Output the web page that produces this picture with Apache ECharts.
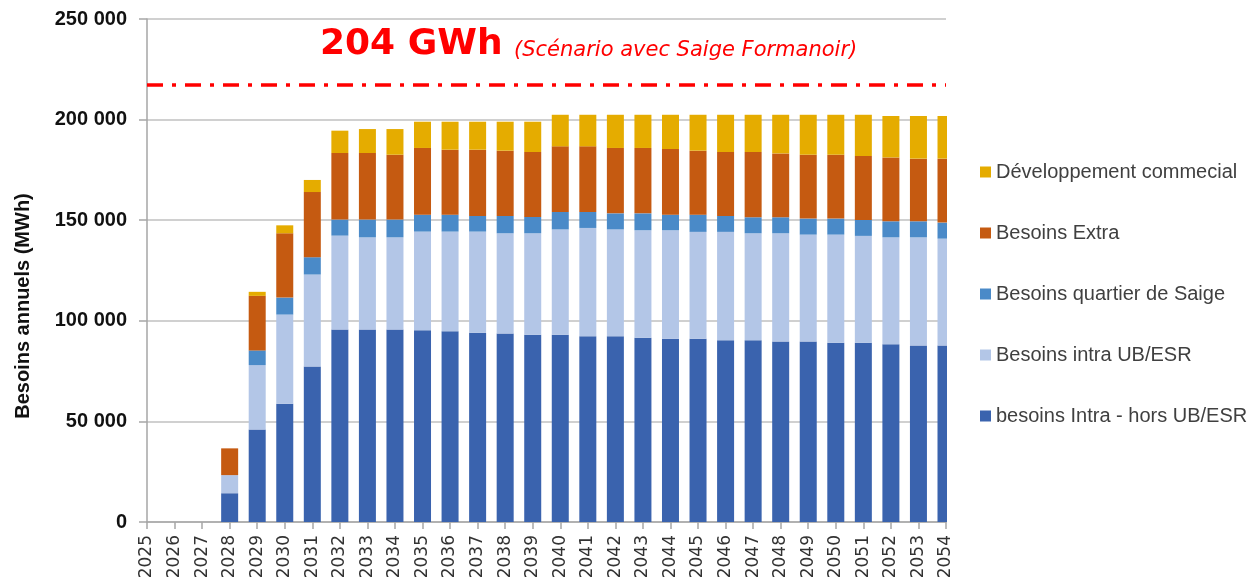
<!DOCTYPE html>
<html>
<head>
<meta charset="utf-8">
<script src="https://cdn.jsdelivr.net/npm/echarts@6/dist/echarts.min.js"></script>
<style>
html,body{margin:0;padding:0;background:#fff;}
#chart{width:1259px;height:588px;}
</style>
</head>
<body>
<div id="chart"></div>
<script>
const years = ['2025','2026','2027','2028','2029','2030','2031','2032','2033','2034','2035','2036','2037','2038','2039','2040','2041','2042','2043','2044','2045','2046','2047','2048','2049','2050','2051','2052','2053','2054'];
const horsUB = [0,0,0,14300,46000,58800,77300,95700,95700,95700,95300,94850,94050,93700,93050,93050,92350,92350,91550,91050,91050,90350,90350,89700,89700,89050,89050,88400,87750,87750];
const intraUB = [0,0,0,9000,32000,44300,45700,46650,45800,45800,49050,49500,50300,49800,50450,52400,53800,53100,53450,53950,53150,53850,53150,53800,53150,53800,53150,53100,53750,53100];
const quartierSaige = [0,0,0,0,7300,8450,8600,7950,8800,8800,8400,8400,7750,8600,8150,8650,7950,7950,8400,7750,8550,7900,7950,7950,7950,7950,7950,7950,7950,7950];
const besoinsExtra = [0,0,0,13300,27100,31950,32400,33100,33100,32250,33150,32300,32950,32450,32250,32600,32600,32500,32500,32650,31800,31800,32450,31750,31750,31750,31750,31750,31150,31800];
const devCommercial = [0,0,0,0,2000,3950,6000,11100,11900,12750,13050,13900,13900,14400,15050,15700,15700,16500,16500,17000,17850,18500,18500,19200,19850,19850,20500,20600,21200,21200];
const seriesNames = ['besoins Intra - hors UB/ESR','Besoins intra UB/ESR','Besoins quartier de Saige','Besoins Extra','Développement commecial'];
const referenceLine = 217300;
const titleMain = '204 GWh';
const titleSub = '(Scénario avec Saige Formanoir)';
const yAxisName = 'Besoins annuels (MWh)';

const colors = ['#3a63ae','#b3c6e7','#4a8ac8','#c55a11','#e5ac00'];
const dataSets = [horsUB, intraUB, quartierSaige, besoinsExtra, devCommercial];

const chart = echarts.init(document.getElementById('chart'));
const series = dataSets.map((d, i) => ({
  name: seriesNames[i],
  type: 'bar',
  stack: 'total',
  data: d,
  barWidth: 17,
  itemStyle: { color: colors[i] },
  emphasis: { disabled: true }
}));
series[4].markLine = {
  silent: true,
  symbol: 'none',
  label: { show: false },
  lineStyle: { color: '#ff0000', width: 3.5, type: [16, 9, 4, 9] },
  data: [{ yAxis: referenceLine }]
};

chart.setOption({
  animation: false,
  grid: { left: 147, right: 313, top: 19, bottom: 66, containLabel: false },
  legend: {
    orient: 'vertical',
    left: 980,
    top: 162,
    padding: 0,
    itemWidth: 11,
    itemHeight: 11,
    itemGap: 41,
    icon: 'rect',
    data: seriesNames.slice().reverse(),
    textStyle: { fontFamily: 'Liberation Sans', fontSize: 20, color: '#404040' }
  },
  xAxis: {
    type: 'category',
    data: years,
    boundaryGap: false,
    axisLine: { lineStyle: { color: '#a6a6a6', width: 1.5 } },
    axisTick: { show: true, length: 7, interval: 0, lineStyle: { color: '#a6a6a6', width: 1.5 } },
    axisLabel: { interval: 0, rotate: 90, margin: 13, fontFamily: 'DejaVu Sans', fontSize: 17, color: '#333' },
    splitLine: { show: false }
  },
  yAxis: {
    type: 'value',
    min: 0,
    max: 250000,
    interval: 50000,
    axisLine: { show: true, lineStyle: { color: '#a6a6a6', width: 1.5 } },
    axisTick: { show: true, length: 8, lineStyle: { color: '#a6a6a6', width: 1.5 } },
    axisLabel: {
      margin: 20,
      fontFamily: 'Liberation Sans', fontWeight: 'bold', fontSize: 20, color: '#111',
      formatter: v => String(v).replace(/\B(?=(\d{3})+(?!\d))/g, ' ')
    },
    splitLine: { show: true, lineStyle: { color: '#c0c0c0', width: 1.5 } }
  },
  graphic: [
    { type: 'rect', z: 100, silent: true, shape: { x: 947, y: 0, width: 28, height: 522 }, style: { fill: '#ffffff' } },
    { type: 'text', x: 23, y: 306, rotation: Math.PI / 2,
      style: { text: yAxisName, fontFamily: 'Liberation Sans', fontWeight: 'bold', fontSize: 20, fill: '#111', align: 'center', verticalAlign: 'middle' } },
    { type: 'text', x: 320, y: 45,
      style: { text: titleMain, fontFamily: 'DejaVu Sans', fontWeight: 'bold', fontSize: 36, fill: '#ff0000', align: 'left', verticalAlign: 'middle' } },
    { type: 'text', x: 514, y: 51,
      style: { text: titleSub, fontFamily: 'DejaVu Sans', fontStyle: 'italic', fontSize: 21, fill: '#ff0000', align: 'left', verticalAlign: 'middle' } }
  ],
  series: series
});
</script>
</body>
</html>
